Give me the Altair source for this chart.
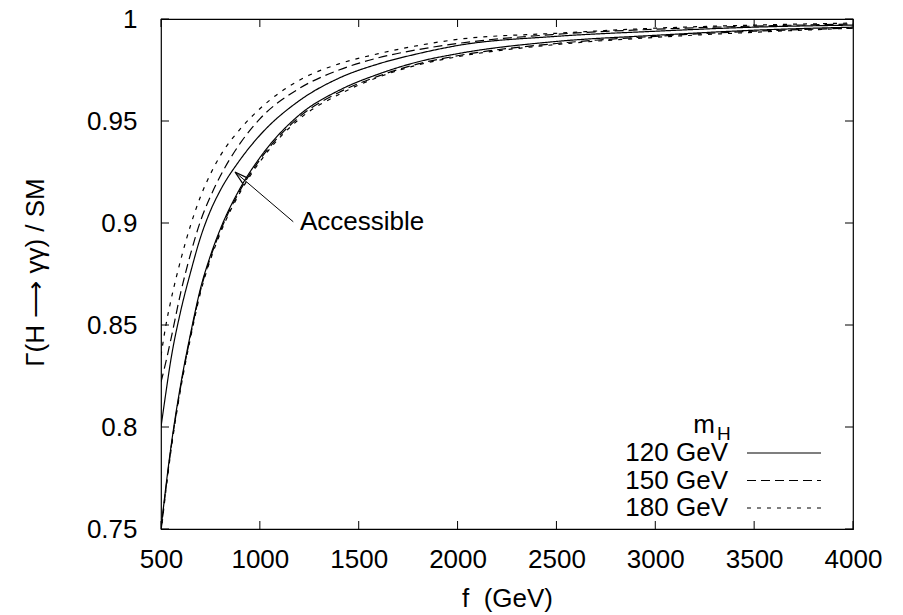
import altair as alt
import pandas as pd

# ---------------- data ----------------
f_gev = [500, 525, 550, 600, 650, 700, 750, 800, 900, 1000, 1200, 1400,
         1600, 1800, 2000, 2500, 3000, 3500, 4000]

upper_120 = [0.800, 0.817, 0.833, 0.857, 0.876, 0.893, 0.906, 0.916, 0.931, 0.943,
             0.960, 0.971, 0.978, 0.983, 0.987, 0.9915, 0.994, 0.996, 0.997]
upper_150 = [0.822, 0.832, 0.843, 0.866, 0.885, 0.901, 0.913, 0.923, 0.939, 0.951,
             0.966, 0.975, 0.981, 0.985, 0.988, 0.9925, 0.995, 0.9965, 0.9975]
upper_180 = [0.835, 0.850, 0.862, 0.882, 0.899, 0.913, 0.924, 0.933, 0.946, 0.956,
             0.970, 0.978, 0.983, 0.987, 0.990, 0.993, 0.9955, 0.997, 0.998]
lower_120 = [0.750, 0.771, 0.790, 0.821, 0.846, 0.868, 0.884, 0.897, 0.917, 0.932,
             0.953, 0.965, 0.973, 0.979, 0.983, 0.989, 0.992, 0.9945, 0.996]
lower_150 = [0.749, 0.770, 0.789, 0.820, 0.845, 0.867, 0.883, 0.896, 0.916, 0.931,
             0.952, 0.964, 0.972, 0.978, 0.982, 0.988, 0.9915, 0.994, 0.9955]
lower_180 = [0.748, 0.769, 0.788, 0.819, 0.844, 0.866, 0.882, 0.895, 0.915, 0.930,
             0.951, 0.963, 0.9715, 0.9775, 0.9815, 0.9875, 0.991, 0.9935, 0.9955]

masses = ["120 GeV", "150 GeV", "180 GeV"]
dashes = [[1, 0], [9, 5], [4, 6]]

x_ticks = [500, 1000, 1500, 2000, 2500, 3000, 3500, 4000]
y_ticks = [0.75, 0.8, 0.85, 0.9, 0.95, 1.0]

arrow_f = [1169, 874]
arrow_v = [0.9006, 0.925]
label_f = [1203]
label_v = [0.9005]
label_text = ["Accessible"]

# ---------------- build tables ----------------
rows = []
for mass, up, lo in zip(masses, [upper_120, upper_150, upper_180],
                        [lower_120, lower_150, lower_180]):
    for bound, arr in (("upper", up), ("lower", lo)):
        for x, v in zip(f_gev, arr):
            rows.append({"f": x, "ratio": v, "mass": mass, "curve": f"{mass} {bound}"})
df = pd.DataFrame(rows)

W, H = 692, 510
FONT = "Liberation Sans"
FS = 26
LW = 1.2

xscale = alt.Scale(domain=[500, 4000], nice=False, zero=False)
yscale = alt.Scale(domain=[0.75, 1.0], nice=False, zero=False)

xaxis = alt.Axis(values=x_ticks, ticks=False, tickSize=0, domain=False, grid=False,
                 labelFont=FONT, labelFontSize=FS, labelColor="black", labelPadding=17,
                 labelFlush=False, format="d",
                 title="f\u00a0\u00a0(GeV)", titleFont=FONT, titleFontSize=FS,
                 titleFontWeight="normal", titleColor="black",
                 titleY=77, titleBaseline="alphabetic")
yaxis = alt.Axis(values=y_ticks, ticks=False, tickSize=0, domain=False, grid=False,
                 labelFont=FONT, labelFontSize=FS, labelColor="black", labelPadding=24,
                 labelFlush=False, format="~g",
                 title="\u0393(H \u27f6 \u03b3\u03b3) / SM", titleFont=FONT, titleFontSize=FS,
                 titleFontWeight="normal", titleColor="black",
                 titleX=-126, titleY=253, titleAngle=270, titleAlign="center",
                 titleBaseline="middle")

curves = alt.Chart(df).mark_line(color="black", strokeWidth=LW, interpolate="monotone",
                                 clip=True).encode(
    x=alt.X("f:Q", scale=xscale, axis=xaxis),
    y=alt.Y("ratio:Q", scale=yscale, axis=yaxis),
    strokeDash=alt.StrokeDash("mass:N", scale=alt.Scale(domain=masses, range=dashes),
                              legend=None),
    detail="curve:N",
)

xt = pd.DataFrame({"f": x_ticks})
yt = pd.DataFrame({"ratio": y_ticks})
tick_bottom = alt.Chart(xt).mark_rule(color="black", strokeWidth=1).encode(
    x=alt.X("f:Q", scale=xscale), y=alt.value(H), y2=alt.value(H - 8))
tick_top = alt.Chart(xt).mark_rule(color="black", strokeWidth=1).encode(
    x=alt.X("f:Q", scale=xscale), y=alt.value(0), y2=alt.value(8))
tick_left = alt.Chart(yt).mark_rule(color="black", strokeWidth=1).encode(
    y=alt.Y("ratio:Q", scale=yscale), x=alt.value(0), x2=alt.value(8))
tick_right = alt.Chart(yt).mark_rule(color="black", strokeWidth=1).encode(
    y=alt.Y("ratio:Q", scale=yscale), x=alt.value(W), x2=alt.value(W - 8))

arrow_df = pd.DataFrame({"f": arrow_f, "ratio": arrow_v, "order": [0, 1]})
arrow_line = alt.Chart(arrow_df).mark_line(color="black", strokeWidth=1).encode(
    x=alt.X("f:Q", scale=xscale), y=alt.Y("ratio:Q", scale=yscale), order="order:Q")
arrow_head = alt.Chart(arrow_df.iloc[[1]]).mark_point(
    shape="M0,0L-0.27,1M0,0L0.27,1", angle=310.6, size=700, filled=False,
    stroke="black", strokeWidth=1.2, opacity=1).encode(
    x=alt.X("f:Q", scale=xscale), y=alt.Y("ratio:Q", scale=yscale))

label_df = pd.DataFrame({"f": label_f, "ratio": label_v, "text": label_text})
label = alt.Chart(label_df).mark_text(font=FONT, fontSize=FS, align="left",
                                      baseline="middle", color="black").encode(
    x=alt.X("f:Q", scale=xscale), y=alt.Y("ratio:Q", scale=yscale), text="text:N")

# ---------------- key (legend) ----------------
one = pd.DataFrame({"k": [0]})
legend_layers = [
    alt.Chart(one).mark_text(text="m", font=FONT, fontSize=FS, align="right",
                             baseline="middle", color="black").encode(
        x=alt.value(554), y=alt.value(406)),
    alt.Chart(one).mark_text(text="H", font=FONT, fontSize=19, align="left",
                             baseline="middle", color="black").encode(
        x=alt.value(556), y=alt.value(415)),
]
for i, (mass, dash) in enumerate(zip(masses, dashes)):
    yy = 434 + i * 27.5
    legend_layers.append(
        alt.Chart(one).mark_text(text=mass, font=FONT, fontSize=FS, align="right",
                                 baseline="middle", color="black").encode(
            x=alt.value(567), y=alt.value(yy)))
    legend_layers.append(
        alt.Chart(one).mark_rule(color="black", strokeWidth=LW, strokeDash=dash).encode(
            x=alt.value(586), x2=alt.value(660), y=alt.value(yy)))

chart = alt.layer(curves, tick_bottom, tick_top, tick_left, tick_right,
                  arrow_line, arrow_head, label, *legend_layers).properties(
    width=W, height=H,
    autosize=alt.AutoSizeParams(type="none"),
    padding={"left": 161, "top": 19, "right": 50, "bottom": 86},
    background="white",
).configure_view(stroke="black", strokeWidth=1.2)

chart.save("out.html", embed_options={"renderer": "svg", "actions": False})
